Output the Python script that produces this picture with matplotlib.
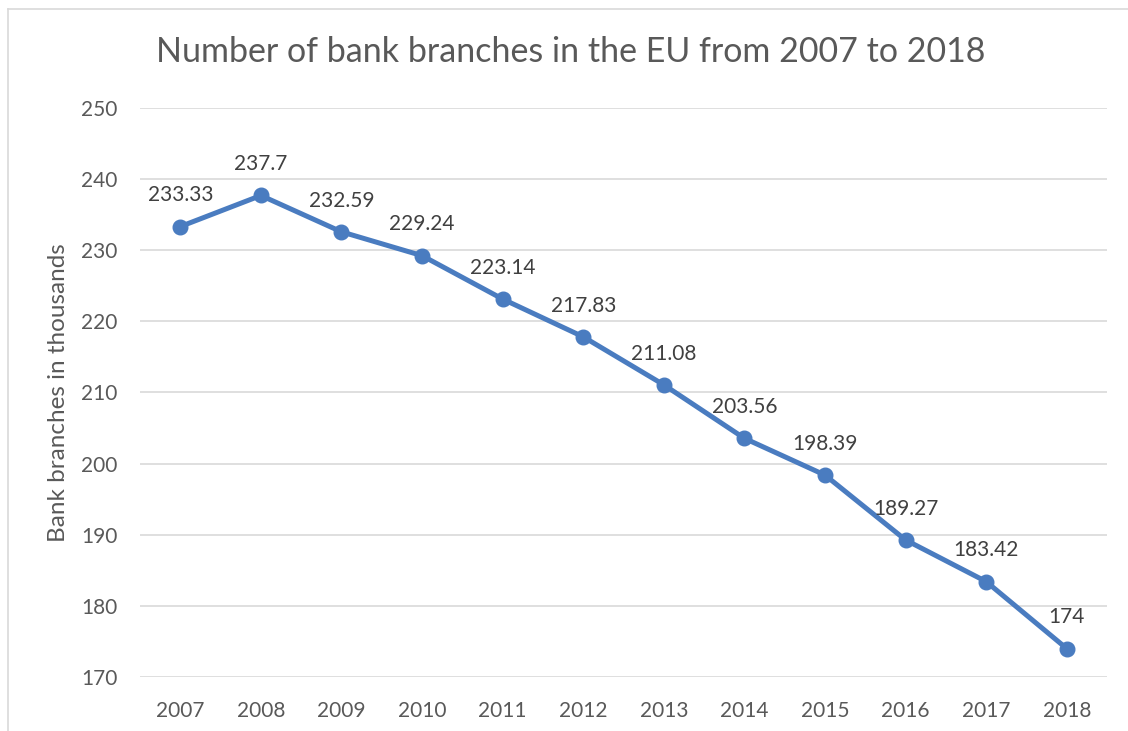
import matplotlib
matplotlib.use("Agg")
import matplotlib.pyplot as plt
from matplotlib.lines import Line2D

years = ["2007", "2008", "2009", "2010", "2011", "2012", "2013", "2014", "2015", "2016", "2017", "2018"]
branches = [233.33, 237.7, 232.59, 229.24, 223.14, 217.83, 211.08, 203.56, 198.39, 189.27, 183.42, 174]
labels = ["233.33", "237.7", "232.59", "229.24", "223.14", "217.83", "211.08", "203.56", "198.39", "189.27", "183.42", "174"]
yticks = [170, 180, 190, 200, 210, 220, 230, 240, 250]

plt.rcParams['font.family'] = ['Lato', 'DejaVu Sans']
txt = '#595959'
fig = plt.figure(figsize=(11.28, 7.31), dpi=100)
ax = fig.add_axes([140/1128, 1-677/731, (1107-140)/1128, (677-108)/731])

x = list(range(len(years)))
ax.plot(x, branches, color='#4A7CC0', lw=3.6, marker='o', ms=10.5, zorder=3, solid_capstyle='round')
for xi, v, lab in zip(x, branches, labels):
    ax.annotate(lab, (xi, v), xytext=(0, 22.5), textcoords='offset points', ha='center', va='center',
                fontsize=15, color='#404040')

ax.set_xlim(-0.5, len(years) - 0.5)
ax.set_ylim(170, 250)
ax.set_yticks(yticks)
ax.set_xticks(x)
ax.set_xticklabels(years)
ax.grid(axis='y', color='#D9D9D9', lw=1.2)
ax.set_axisbelow(True)
for s in ax.spines.values():
    s.set_visible(False)
ax.tick_params(length=0, labelsize=15, colors=txt)
ax.tick_params(axis='x', pad=17)
ax.tick_params(axis='y', pad=16)
ax.set_ylabel("Bank branches in thousands", fontsize=17.5, color=txt, labelpad=9)
fig.text(0.506, 1-52/731, "Number of bank branches in the EU from 2007 to 2018", ha='center', va='center',
         fontsize=24.5, color=txt)

fig.add_artist(Line2D([8/1128, 8/1128], [0, 1-9/731], color='#D9D9D9', lw=1.2, transform=fig.transFigure))
fig.add_artist(Line2D([8/1128, 1], [1-9/731, 1-9/731], color='#D9D9D9', lw=1.2, transform=fig.transFigure))

fig.savefig("out.png", dpi=100)
